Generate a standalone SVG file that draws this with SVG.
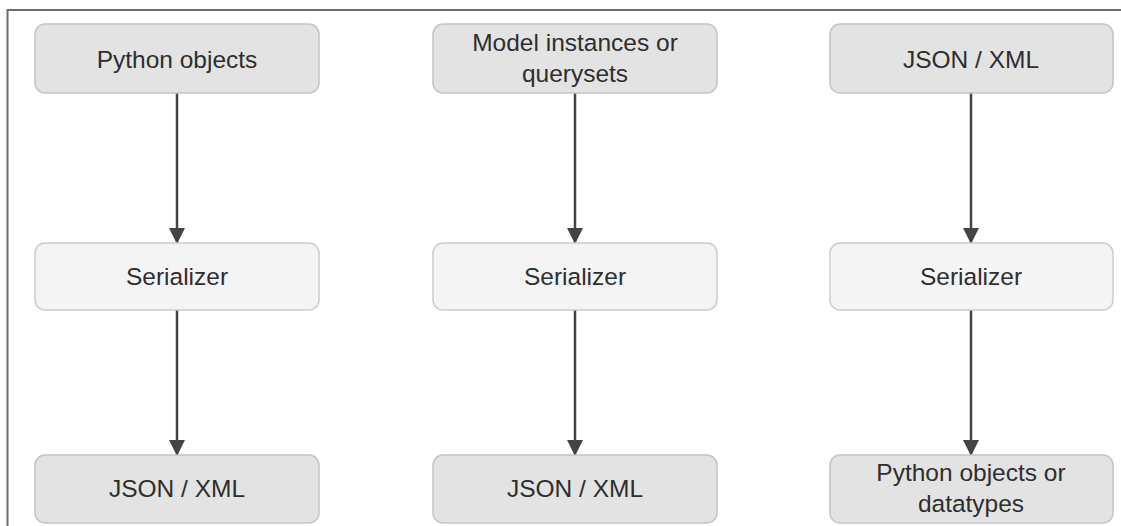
<svg xmlns="http://www.w3.org/2000/svg" width="1121" height="526" viewBox="0 0 1121 526">
<defs>
<style>
.dark{fill:#e3e3e3;stroke:#c4c4c4;stroke-width:1.5}
.light{fill:#f4f4f4;stroke:#cccccc;stroke-width:1.5}
.t{font-family:"Liberation Sans",Arial,sans-serif;font-size:24.5px;fill:#2e2e2e;text-anchor:middle}
.edge{stroke:#444444;stroke-width:2.5;fill:none;marker-end:url(#ah)}
</style>
<marker id="ah" viewBox="0 0 16 16" refX="15" refY="8" markerWidth="16" markerHeight="16" markerUnits="userSpaceOnUse" orient="auto">
<path d="M0,0 L16,8 L0,16 Z" fill="#444444"/>
</marker>
</defs>
<rect x="0" y="0" width="1121" height="526" fill="#ffffff"/>
<path d="M7.5,526 V10 H1121" fill="none" stroke="#6e6e6e" stroke-width="2"/>
<g id="connectors">
<line class="edge" x1="177" y1="93" x2="177" y2="243"/>
<line class="edge" x1="177" y1="310" x2="177" y2="455"/>
<line class="edge" x1="575" y1="93" x2="575" y2="243"/>
<line class="edge" x1="575" y1="310" x2="575" y2="455"/>
<line class="edge" x1="971" y1="93" x2="971" y2="243"/>
<line class="edge" x1="971" y1="310" x2="971" y2="455"/>
</g>
<g id="n1"><rect class="dark" x="35" y="24" width="284" height="69" rx="10"/><text class="t" x="177" y="68">Python objects</text></g>
<g id="n2"><rect class="light" x="35" y="243" width="284" height="67" rx="10"/><text class="t" x="177" y="285">Serializer</text></g>
<g id="n3"><rect class="dark" x="35" y="455" width="284" height="68" rx="10"/><text class="t" x="177" y="497">JSON / XML</text></g>
<g id="n4"><rect class="dark" x="433" y="24" width="284" height="69" rx="10"/><text class="t" x="575" y="51">Model instances or</text><text class="t" x="575" y="82">querysets</text></g>
<g id="n5"><rect class="light" x="433" y="243" width="284" height="67" rx="10"/><text class="t" x="575" y="285">Serializer</text></g>
<g id="n6"><rect class="dark" x="433" y="455" width="284" height="68" rx="10"/><text class="t" x="575" y="497">JSON / XML</text></g>
<g id="n7"><rect class="dark" x="830" y="24" width="283" height="69" rx="10"/><text class="t" x="971" y="68">JSON / XML</text></g>
<g id="n8"><rect class="light" x="830" y="243" width="283" height="67" rx="10"/><text class="t" x="971" y="285">Serializer</text></g>
<g id="n9"><rect class="dark" x="830" y="455" width="283" height="68" rx="10"/><text class="t" x="971" y="481">Python objects or</text><text class="t" x="971" y="512">datatypes</text></g>
</svg>
